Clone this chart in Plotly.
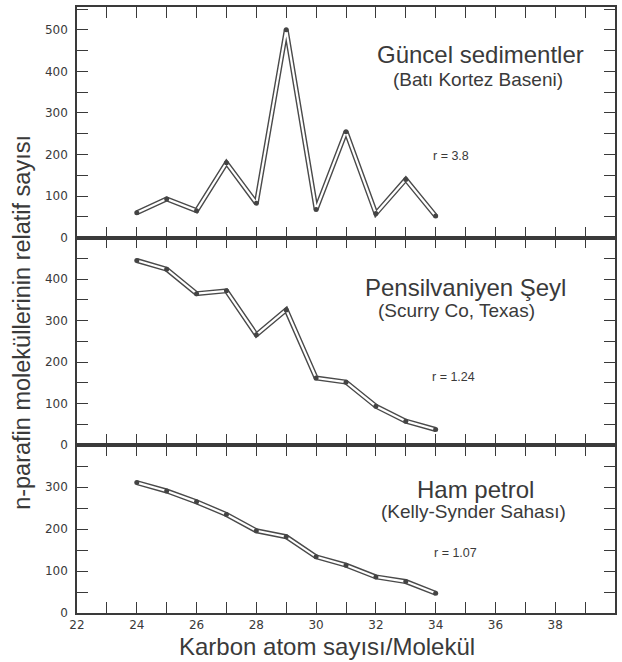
import plotly.graph_objects as go

carbon = [24, 25, 26, 27, 28, 29, 30, 31, 32, 33, 34]
guncel = [60, 93, 65, 180, 83, 500, 68, 255, 58, 140, 52]
pensilvaniyen = [445, 424, 365, 372, 266, 326, 162, 152, 94, 58, 38]
ham_petrol = [311, 291, 265, 235, 196, 182, 134, 114, 86, 75, 47]

x_tick_vals = list(range(22, 41))
x_tick_text = [str(v) if v % 2 == 0 else "" for v in x_tick_vals]

panels = [
    dict(y=guncel, ax="3", ymax=555, yt=list(range(0, 551, 50))),
    dict(y=pensilvaniyen, ax="2", ymax=500, yt=list(range(0, 451, 50))),
    dict(y=ham_petrol, ax="", ymax=400, yt=list(range(0, 351, 50))),
]

INK = "#3a3a3a"
fig = go.Figure()
for p in panels:
    xa = "x" + p["ax"]
    ya = "y" + p["ax"]
    fig.add_trace(go.Scatter(x=carbon, y=p["y"], xaxis=xa, yaxis=ya, mode="lines",
                             line=dict(color="#4a4a4a", width=5), hoverinfo="skip", showlegend=False))
    fig.add_trace(go.Scatter(x=carbon, y=p["y"], xaxis=xa, yaxis=ya, mode="lines",
                             line=dict(color="white", width=2.2), hoverinfo="skip", showlegend=False))
    fig.add_trace(go.Scatter(x=carbon, y=p["y"], xaxis=xa, yaxis=ya, mode="markers",
                             marker=dict(color="#444", size=5), showlegend=False))

domains = {"": [0, 0.2768], "2": [0.2768, 0.6194], "3": [0.6194, 1]}
font_tick = dict(family="DejaVu Sans", size=12, color=INK)
layout = dict(
    width=622, height=662,
    margin=dict(l=77, r=5, t=6, b=49),
    plot_bgcolor="white", paper_bgcolor="white",
    showlegend=False,
)
for p in panels:
    k = p["ax"]
    layout["xaxis" + k] = dict(
        range=[22, 40], anchor="y" + k, domain=[0, 1],
        tickvals=x_tick_vals, ticktext=x_tick_text,
        showticklabels=(k == ""),
        ticks="inside", ticklen=11, tickwidth=1.3, tickcolor=INK,
        showline=True, linecolor=INK, linewidth=1.6, mirror="ticks",
        showgrid=False, zeroline=False, tickfont=font_tick,
    )
    layout["yaxis" + k] = dict(
        range=[0, p["ymax"]], anchor="x" + k, domain=domains[k],
        tickvals=p["yt"], ticktext=[str(v) if v % 100 == 0 else "" for v in p["yt"]],
        ticks="inside", ticklen=11, tickwidth=1.3, tickcolor=INK,
        showline=True, linecolor=INK, linewidth=1.6, mirror="ticks",
        showgrid=False, zeroline=False, tickfont=font_tick, ticklabelstandoff=5,
    )
fig.update_layout(**layout)

TF = "Liberation Sans"
ann = [
    ("Güncel sedimentler", 35.5, 441, "3", 24),
    ("(Batı Kortez Baseni)", 35.4, 381, "3", 19),
    ("r = 3.8", 34.5, 197, "3", 12.5),
    ("Pensilvaniyen Şeyl", 35.0, 379, "2", 24),
    ("(Scurry Co, Texas)", 34.7, 324, "2", 19),
    ("r = 1.24", 34.6, 165, "2", 12.5),
    ("Ham petrol", 35.33, 295, "", 24),
    ("(Kelly-Synder Sahası)", 35.27, 242, "", 19),
    ("r = 1.07", 34.67, 144, "", 12.5),
]
for t, x, y, k, s in ann:
    fig.add_annotation(text=t, x=x, y=y, xref="x" + k, yref="y" + k, showarrow=False,
                       xanchor="center", yanchor="middle",
                       font=dict(family=TF, size=s, color=INK))

fig.add_annotation(text="n-parafin moleküllerinin relatif sayısı", xref="paper", yref="paper",
                   x=-0.102, y=0.479, textangle=-90, showarrow=False,
                   xanchor="center", yanchor="middle",
                   font=dict(family=TF, size=23.5, color=INK))
fig.add_annotation(text="Karbon atom sayısı/Molekül", xref="paper", yref="paper",
                   x=0.465, y=-0.056, showarrow=False,
                   xanchor="center", yanchor="middle",
                   font=dict(family=TF, size=24, color=INK))

fig.write_html("out.html", config={"displayModeBar": False},
               post_script="document.body.style.margin='0';")
